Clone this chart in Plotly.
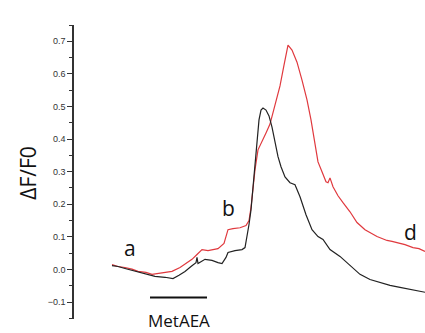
import plotly.graph_objects as go

# time (arbitrary units) and ΔF/F0 values
t_red = [38, 44, 51, 58, 64, 72, 78, 84, 91, 98, 106, 112, 118, 123, 128, 134, 139, 144, 150, 154, 159, 166,
         172, 175, 177, 179, 181, 184, 188, 192, 196, 201, 206, 210, 214, 218, 223, 228, 233, 237, 241, 244,
         248, 252, 254, 256, 259, 264, 269, 276, 283, 291, 303, 313, 318, 323, 331, 339, 345, 351]
v_red = [0.015, 0.009, 0.006, 0.001, -0.006, -0.009, -0.015, -0.012, -0.009, -0.006, 0.006, 0.018, 0.031,
         0.046, 0.061, 0.058, 0.062, 0.064, 0.080, 0.122, 0.125, 0.128, 0.135, 0.150, 0.190, 0.245, 0.306,
         0.367, 0.391, 0.419, 0.446, 0.502, 0.563, 0.627, 0.688, 0.673, 0.636, 0.581, 0.520, 0.459, 0.388,
         0.330, 0.300, 0.269, 0.266, 0.281, 0.254, 0.226, 0.205, 0.177, 0.144, 0.122, 0.101, 0.089, 0.086,
         0.083, 0.076, 0.067, 0.064, 0.055]

t_blk = [38, 44, 51, 58, 64, 72, 81, 91, 99, 105, 111, 117, 122, 123, 124, 131, 138, 144, 148, 152, 154, 161,
         168, 171, 173, 175, 177, 179, 181, 183, 185, 187, 189, 192, 195, 198, 201, 204, 207, 211, 216, 221,
         226, 232, 238, 244, 249, 256, 266, 276, 286, 296, 306, 316, 326, 336, 344, 351]
v_blk = [0.012, 0.009, 0.003, -0.003, -0.006, -0.015, -0.021, -0.024, -0.028, -0.018, -0.006, 0.009, 0.021,
         0.037, 0.018, 0.031, 0.028, 0.021, 0.018, 0.037, 0.052, 0.058, 0.061, 0.067, 0.098, 0.138, 0.183,
         0.251, 0.327, 0.398, 0.459, 0.489, 0.495, 0.489, 0.471, 0.437, 0.391, 0.346, 0.315, 0.284, 0.266,
         0.260, 0.223, 0.168, 0.122, 0.101, 0.092, 0.061, 0.040, 0.012, -0.015, -0.031, -0.040, -0.049,
         -0.055, -0.061, -0.064, -0.070]

y_ticks = [-0.1, 0.0, 0.1, 0.2, 0.3, 0.4, 0.5, 0.6, 0.7]
point_labels = ["a", "b", "c", "d"]
label_t = [56, 154, 199, 336]
label_v = [0.067, 0.190, 0.765, 0.116]
bar_t = [76, 133]
bar_v = -0.086
bar_label = "MetAEA"

fig = go.Figure()
fig.add_trace(go.Scatter(x=t_red, y=v_red, mode="lines",
                         line=dict(color="#e0393e", width=1.2), showlegend=False))
fig.add_trace(go.Scatter(x=t_blk, y=v_blk, mode="lines",
                         line=dict(color="#222222", width=1.2), showlegend=False))

font = "Open Sans, Arial, sans-serif"
for lab, tx, vy in zip(point_labels, label_t, label_v):
    fig.add_annotation(x=tx, y=vy, text=lab, showarrow=False, xref="x", yref="y",
                       font=dict(family=font, size=21, color="#111111"))

fig.add_shape(type="line", x0=bar_t[0], x1=bar_t[1], y0=bar_v, y1=bar_v, xref="x", yref="y",
              line=dict(color="#111111", width=2))
fig.add_annotation(x=(bar_t[0] + bar_t[1]) / 2, y=0.0, yshift=11, text=bar_label, showarrow=False,
                   xref="x", yref="paper", yanchor="top", borderpad=0,
                   font=dict(family=font, size=17, color="#111111"))

fig.add_annotation(x=-0.131, y=0.297, xref="paper", yref="y", text="ΔF/F0", textangle=-90,
                   xanchor="center", yanchor="middle",
                   showarrow=False, font=dict(family=font, size=21, color="#111111"))

fig.update_layout(
    width=425, height=333,
    margin=dict(l=74, r=0, t=25, b=14),
    paper_bgcolor="white", plot_bgcolor="white",
    xaxis=dict(visible=False, range=[0, 351]),
    yaxis=dict(range=[-0.152, 0.75], tickvals=y_ticks, tickformat=".1f",
               showgrid=False, zeroline=False, showline=True, linecolor="#333333", linewidth=1.5,
               ticks="outside", ticklen=5, tickwidth=1, tickcolor="#333333",
               tickfont=dict(family="Arial, sans-serif", size=9, color="#333333"),
               minor=dict(dtick=0.05, tick0=0, ticks="outside", ticklen=3, tickcolor="#333333",
                          showgrid=False)),
)

fig.write_html("out.html")
